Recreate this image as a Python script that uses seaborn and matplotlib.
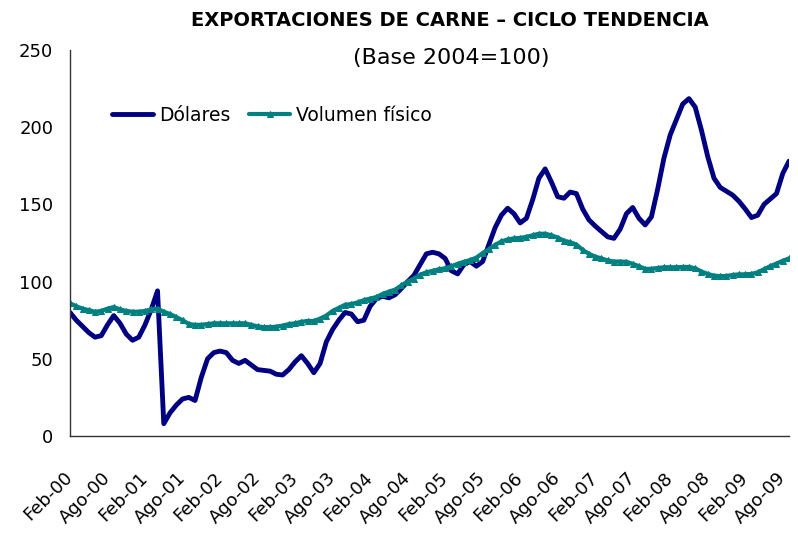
import matplotlib
matplotlib.use("Agg")
import matplotlib.pyplot as plt
import numpy as np
import pandas as pd
import seaborn as sns

# Monthly series, Feb-2000 .. Sep-2009 (Base 2004 = 100)
dolares = [
    80, 75, 71, 67, 64, 65, 72, 78, 73, 66,       # Feb-00 .. Nov-00
    62, 64, 72, 82, 94, 8, 15, 20, 24, 25,        # Dic-00 .. Sep-01
    23, 38, 50, 54, 55, 54, 49, 47, 49, 46,       # Oct-01 .. Jul-02
    43, 42.5, 42, 40, 39.5, 43, 48, 52, 47, 41,   # Ago-02 .. May-03
    47, 61, 69, 75, 80, 79, 74, 75, 84, 89,       # Jun-03 .. Mar-04
    90.5, 89.5, 91.5, 95.5, 100, 104, 111, 118, 119, 118,   # Abr-04 .. Ene-05
    115, 107, 105, 111, 113, 110, 113, 124, 135, 143,       # Feb-05 .. Nov-05
    147.5, 144, 138, 141, 153, 167, 173, 164.5, 155, 154,   # Dic-05 .. Sep-06
    158, 157, 147, 140, 136, 132.5, 129, 128, 134, 144,     # Oct-06 .. Jul-07
    148, 141, 136.7, 142, 160, 180, 195, 205, 215, 218.5,   # Ago-07 .. May-08
    213, 198, 181, 167, 161, 158.5, 156, 152, 147, 141.5,   # Jun-08 .. Mar-09
    143, 150, 153.5, 157, 170, 178,                         # Abr-09 .. Sep-09
]
volumen = [
    86, 84, 82.5, 81.5, 80.5, 81, 82.5, 83.5, 82, 81,
    80.5, 80.5, 81, 82, 82.5, 80.5, 79, 77, 75, 72.5,
    72, 72, 72.5, 73, 73, 73, 73, 73, 73, 72,
    71, 70.5, 70.5, 70.8, 71.5, 72.5, 73, 74, 74.5, 74.5,
    76, 78, 81, 83, 85, 85.5, 86.5, 88, 89, 90,
    92, 93.5, 94.8, 97.5, 100, 102, 104.5, 106, 107, 108,
    108.6, 110, 111.5, 112.8, 114, 115.5, 118.5, 121, 123.8, 126,
    127.3, 128, 128.3, 129, 130, 131, 131, 130, 128.5, 126.5,
    125.5, 124, 120.5, 118, 116.2, 115, 113.7, 113, 113, 112.8,
    111.5, 110, 108.2, 108.3, 108.8, 109.3, 109.3, 109.3, 109.5, 109.5,
    108.6, 106.5, 105, 103.8, 103.6, 103.6, 104.3, 104.7, 104.7, 105,
    106, 108, 110, 111.7, 113.5, 115,
]
tick_labels = [
    "Feb-00", "Ago-00", "Feb-01", "Ago-01", "Feb-02", "Ago-02", "Feb-03",
    "Ago-03", "Feb-04", "Ago-04", "Feb-05", "Ago-05", "Feb-06", "Ago-06",
    "Feb-07", "Ago-07", "Feb-08", "Ago-08", "Feb-09", "Ago-09",
]
y_ticks = [0, 50, 100, 150, 200, 250]

n = len(dolares)
df = pd.DataFrame({"mes": np.arange(n), "Dólares": dolares, "Volumen físico": volumen})

sns.set_style("white")
plt.rcParams["font.family"] = ["DejaVu Sans"]
plt.rcParams["text.color"] = "black"
plt.rcParams["xtick.color"] = "black"
plt.rcParams["ytick.color"] = "black"

fig = plt.figure(figsize=(7.98, 5.33), dpi=100)
ax = fig.add_axes([70 / 798, 1 - 436 / 533, (789 - 70) / 798, (436 - 50) / 533])

navy = "#000080"
teal = "#008080"
sns.lineplot(data=df, x="mes", y="Dólares", color=navy, linewidth=3.5,
             ax=ax, label="Dólares")
sns.lineplot(data=df, x="mes", y="Volumen físico", color=teal, linewidth=3.0,
             marker="^", markersize=4, markeredgecolor=teal, markerfacecolor=teal,
             ax=ax, label="Volumen físico")

ax.set_xlim(0, n - 1)
ax.set_ylim(0, 250)
ax.set_yticks(y_ticks)
ax.set_yticklabels([str(v) for v in y_ticks], fontsize=13)
ax.set_xticks(np.arange(0, 6 * len(tick_labels), 6))
ax.set_xticklabels(tick_labels, fontsize=13, rotation=45, ha="right",
                   va="center", rotation_mode="anchor")
ax.set_xlabel("")
ax.set_ylabel("")
ax.tick_params(axis="both", direction="out", length=5, width=1, color="#333333")
ax.tick_params(axis="x", pad=23)
ax.tick_params(axis="y", pad=7)
for s in ["top", "right"]:
    ax.spines[s].set_visible(False)
for s in ["left", "bottom"]:
    ax.spines[s].set_color("#333333")
    ax.spines[s].set_linewidth(1.0)

leg = ax.legend(loc="upper left", bbox_to_anchor=((112 - 70) / 719, (436 - 106) / 386),
                ncol=2, frameon=False, fontsize=13.5, handlelength=2.2,
                handletextpad=0.3, columnspacing=1.0, borderpad=0, borderaxespad=0)

fig.text(450 / 798, 1 - 21 / 533, "EXPORTACIONES DE CARNE – CICLO TENDENCIA",
         ha="center", va="center", fontsize=14, fontweight="bold")
fig.text(451 / 798, 1 - 58 / 533, "(Base 2004=100)", ha="center", va="center",
         fontsize=16)

fig.savefig("out.png", dpi=100)
